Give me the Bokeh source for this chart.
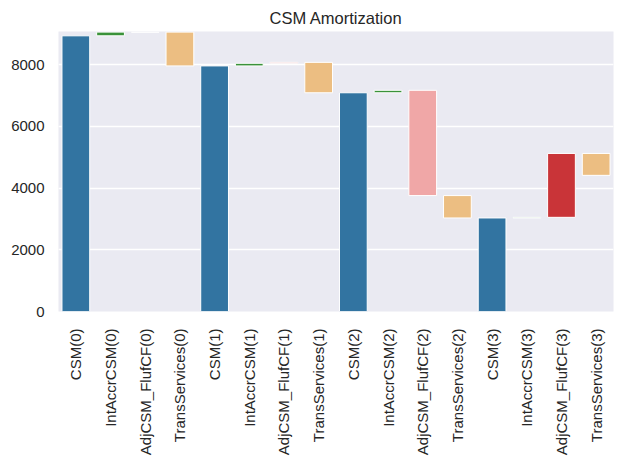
import math
from bokeh.plotting import figure
from bokeh.models import ColumnDataSource, Range1d, FactorRange, FixedTicker
from bokeh.embed import file_html
from bokeh.resources import INLINE

# ---- data ----
periods = [0, 1, 2, 3]
csm_opening = 8930
int_accr_csm = [120, 85, 80, 20]
adj_csm_fluf_cf = [0, 30, -3410, 2070]
trans_services = [-1095, -985, -725, -710]
y_ticks = [0, 2000, 4000, 6000, 8000]
y_max = 9070

# ---- styles ----
BLUE = "#3274A1"
GREEN = "#3A923A"
RED = "#C93438"
PINK = "#F0A7A7"
ORANGE = "#ECBE82"
FONT = "Liberation Sans"
TXT = "#262626"

cats, bottoms, tops, colors = [], [], [], []
level = csm_opening
for t in periods:
    cats.append(f"CSM({t})"); bottoms.append(0); tops.append(level); colors.append(BLUE)
    flows = [
        ("IntAccrCSM", int_accr_csm[t], GREEN),
        ("AdjCSM_FlufCF", adj_csm_fluf_cf[t], RED if adj_csm_fluf_cf[t] >= 0 else PINK),
        ("TransServices", trans_services[t], ORANGE),
    ]
    for name, v, col in flows:
        cats.append(f"{name}({t})")
        bottoms.append(level)
        tops.append(level + v)
        colors.append(col)
        level += v

src = ColumnDataSource(dict(x=cats, bottom=bottoms, top=tops, color=colors))

p = figure(
    x_range=FactorRange(*cats, range_padding=0), y_range=Range1d(0, y_max),
    width=623, height=464, output_backend="svg", toolbar_location=None,
    title="CSM Amortization",
    min_border_left=58, min_border_right=10, min_border_top=31, min_border_bottom=153,
)
p.x_range.range_padding = 0
p.vbar(x="x", bottom="bottom", top="top", width=0.8, fill_color="color",
       line_color="white", line_width=1, source=src)

p.background_fill_color = "#EAEAF2"
p.border_fill_color = "white"
p.outline_line_color = None
p.xgrid.grid_line_color = None
p.ygrid.grid_line_color = "white"
p.ygrid.grid_line_width = 1.3
p.yaxis.ticker = FixedTicker(ticks=y_ticks)
p.yaxis.minor_tick_line_color = None

for ax in (p.xaxis, p.yaxis):
    ax.axis_line_color = None
    ax.major_tick_line_color = None
    ax.major_tick_out = 0
    ax.major_tick_in = 0
    ax.major_label_text_font = FONT
    ax.major_label_text_font_size = "15px"
    ax.major_label_text_color = TXT

p.yaxis.major_label_standoff = 14
p.xaxis.major_label_standoff = 17
p.xaxis.major_label_orientation = math.pi / 2

p.title.text_font = FONT
p.title.text_font_size = "16.5px"
p.title.text_font_style = "normal"
p.title.text_color = TXT
p.title.align = "center"

open("out.html", "w").write(file_html(p, INLINE))
